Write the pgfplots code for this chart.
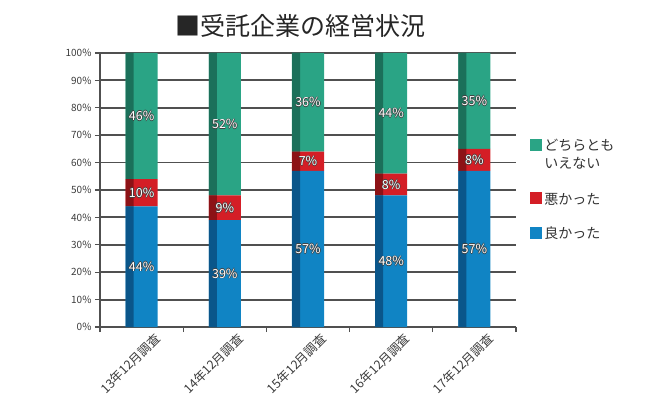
\documentclass[border=0pt]{standalone}
\usepackage{fontspec}
\setmainfont{Noto Sans CJK JP}
\usepackage{pgfplots}
\pgfplotsset{compat=1.18}
\usepackage{pgfplotstable}

\definecolor{cteal}{RGB}{42,164,133}
\definecolor{cred}{RGB}{212,30,38}
\definecolor{cblue}{RGB}{16,132,196}
\definecolor{dteal}{RGB}{27,112,90}
\definecolor{dred}{RGB}{140,18,22}
\definecolor{dblue}{RGB}{10,86,138}
\definecolor{gridc}{RGB}{80,80,80}
\definecolor{tickc}{RGB}{60,60,60}

\pgfplotstableread{
x good bad neither
0 44 10 46
1 39 9 52
2 57 7 36
3 48 8 44
4 57 8 35
}\datatable

\pgfplotstableread{
x y v
0 22 44
0 49 10
0 77 46
1 19.5 39
1 43.5 9
1 74 52
2 28.5 57
2 60.5 7
2 82 36
3 24 48
3 52 8
3 78 44
4 28.5 57
4 61 8
4 82.5 35
}\labtable

\pgfplotsset{
  /pgf/number format/assume math mode=true,
  base/.style={anchor=south west, scale only axis, width=416bp, height=274bp,
    xmin=-0.5, xmax=4.5, ymin=0, ymax=100},
  sq/.style={legend image code/.code={\fill[##1] (0bp,-6bp) rectangle (12bp,6bp);}},
  sqlow/.style={legend image code/.code={\fill[##1] (0bp,-14.5bp) rectangle (12bp,-2.5bp);}},
  lab/.style={only marks, mark=*, mark size=0pt, mark options={draw=none,fill=none},
    point meta=explicit,
    nodes near coords={\pgfmathprintnumber{\pgfplotspointmeta}\%},
    nodes near coords style={anchor=center, font=\fontsize{12.5bp}{14bp}\selectfont, inner sep=0pt, #1}},
}

\begin{document}
\begin{tikzpicture}
\path[use as bounding box] (-100bp,-73bp) rectangle (560bp,327bp);
\begin{axis}[base, at={(0,0)},
  ybar stacked, bar width=32bp,
  axis lines*=left,
  axis line style={gridc, line width=1.8bp},
  ymajorgrids, grid style={gridc, line width=1.8bp},
  ytick={0,10,...,100},
  yticklabel={\pgfmathprintnumber{\tick}\%},
  yticklabel style={font=\fontsize{10bp}{12bp}\selectfont, text=tickc},
  xtick={0,...,4},
  xticklabels={13年12月調査,14年12月調査,15年12月調査,16年12月調査,17年12月調査},
  xticklabel style={rotate=45, anchor=north east, font=\fontsize{12.5bp}{13bp}\selectfont, text=tickc, xshift=12bp, yshift=-5bp},
  major x tick style={draw=none},
  minor xtick={-0.5,0.5,...,4.5},
  tick align=outside,
  major tick length=5bp, minor tick length=5bp,
  tick style={gridc, line width=1.2bp},
  title={■受託企業の経営状況},
  title style={at={(0.481,1)}, anchor=center, yshift=21bp, font=\fontsize{25bp}{28bp}\selectfont, text=black!85},
  reverse legend,
  legend style={draw=none, fill=none, at={(1.027,0.705)}, anchor=north west,
    font=\fontsize{14bp}{18bp}\selectfont, text=black!80, row sep=17bp,
    cells={anchor=west}},
]
\addplot[fill=cblue, draw=none, sq] table[x=x,y=good]{\datatable};
\addlegendentry{良かった}
\addplot[fill=cred, draw=none, sqlow] table[x=x,y=bad]{\datatable};
\addlegendentry{\rule{0pt}{31bp}悪かった}
\addplot[fill=cteal, draw=none, sq] table[x=x,y=neither]{\datatable};
\addlegendentry{\begin{tabular}[t]{@{}l@{}}どちらとも\\いえない\end{tabular}}
\end{axis}

\begin{axis}[base, at={(-12bp,0)}, hide axis, ybar stacked, bar width=8bp]
\addplot[fill=dblue, draw=none] table[x=x,y=good]{\datatable};
\addplot[fill=dred, draw=none] table[x=x,y=bad]{\datatable};
\addplot[fill=dteal, draw=none] table[x=x,y=neither]{\datatable};
\end{axis}

\begin{axis}[base, at={(0,0)}, hide axis]
\addplot[lab={text=black!75, xshift=0.7bp}] table[x=x,y=y,meta=v]{\labtable};
\addplot[lab={text=black!75, xshift=-0.7bp}] table[x=x,y=y,meta=v]{\labtable};
\addplot[lab={text=black!75, yshift=0.7bp}] table[x=x,y=y,meta=v]{\labtable};
\addplot[lab={text=black!75, yshift=-0.7bp}] table[x=x,y=y,meta=v]{\labtable};
\addplot[lab={text=white}] table[x=x,y=y,meta=v]{\labtable};
\end{axis}
\end{tikzpicture}
\end{document}
